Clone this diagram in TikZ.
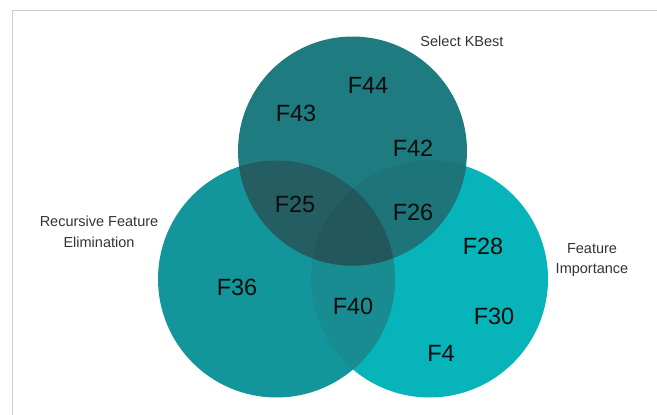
\documentclass[tikz,border=0pt]{standalone}
\usepackage{fontspec}
\setmainfont{Liberation Sans}
\definecolor{kbcol}{HTML}{1E7B7F}
\definecolor{rfecol}{HTML}{13969B}
\definecolor{ficol}{HTML}{06B4BA}
\definecolor{kbrfecol}{HTML}{255E62}
\definecolor{kbficol}{HTML}{1D7579}
\definecolor{rfeficol}{HTML}{198C91}
\definecolor{allcol}{HTML}{22575B}

\begin{document}
\begin{tikzpicture}[
    x=1pt, y=-1pt,
    feat/.style = {font=\fontsize{23.5}{24}\selectfont, text=black!95},
    lbl/.style  = {font=\fontsize{14.5}{20.5}\selectfont, text=black!80,
                   align=center},
  ]
    \useasboundingbox (0,0) rectangle (657,415);
    \draw[black!20, line width=1pt] (12,415) |- (657,10);

    % set centres
    \coordinate (kb)  at (352.5,151);
    \coordinate (rfe) at (276.5,279);
    \coordinate (fi)  at (429.5,279);

    \fill[ficol]  (fi)  circle[radius=118.5pt];
    \fill[rfecol] (rfe) circle[radius=118.5pt];
    \begin{scope}
      \clip (rfe) circle[radius=118.5pt];
      \fill[rfeficol] (fi) circle[radius=118.5pt];
    \end{scope}
    \fill[kbcol] (kb) circle[radius=114.5pt];
    \begin{scope}
      \clip (kb) circle[radius=114.5pt];
      \fill[kbficol] (fi) circle[radius=118.5pt];
      \fill[kbrfecol] (rfe) circle[radius=118.5pt];
      \clip (rfe) circle[radius=118.5pt];
      \fill[allcol] (fi) circle[radius=118.5pt];
    \end{scope}

    % set names
    \node[lbl] (kbname)  at (462,41)  {Select KBest};
    \node[lbl] (rfename) at (99,232)  {Recursive Feature\\Elimination};
    \node[lbl] (finame)  at (592,260) {Feature\\Importance};

    % features
    \node[feat] (f44) at (368,85)  {F44};
    \node[feat] (f43) at (296,113) {F43};
    \node[feat] (f42) at (413,148) {F42};
    \node[feat] (f25) at (295,204) {F25};
    \node[feat] (f26) at (413,212) {F26};
    \node[feat] (f28) at (483,246) {F28};
    \node[feat] (f36) at (237,287) {F36};
    \node[feat] (f40) at (353,306) {F40};
    \node[feat] (f30) at (494,316) {F30};
    \node[feat] (f4)  at (441,353) {F4};
  \end{tikzpicture}
\end{document}
